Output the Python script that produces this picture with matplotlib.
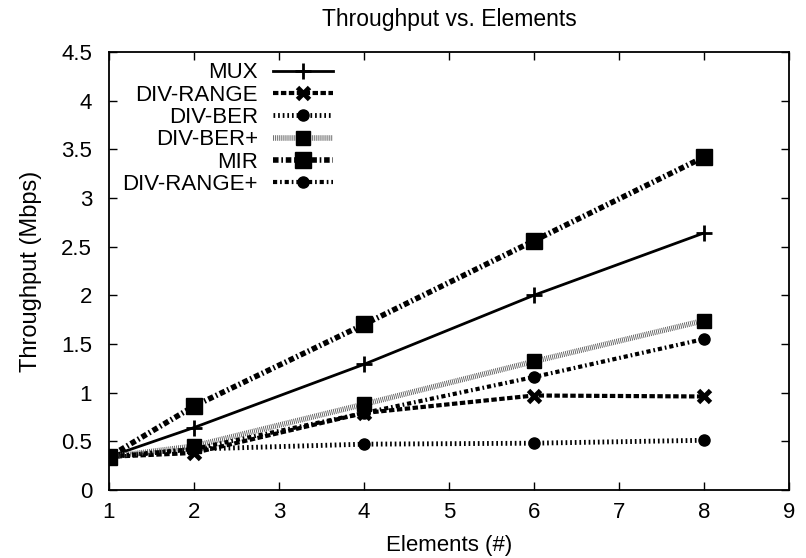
import matplotlib
matplotlib.use("Agg")
from matplotlib import pyplot as plt

plt.rcParams['font.family'] = ['Liberation Sans', 'DejaVu Sans']

elements = [1, 2, 4, 6, 8]
mux = [0.34, 0.64, 1.29, 2.00, 2.64]
div_range = [0.34, 0.38, 0.79, 0.97, 0.96]
div_ber = [0.34, 0.42, 0.47, 0.48, 0.51]
div_ber_plus = [0.34, 0.45, 0.88, 1.32, 1.74]
mir = [0.34, 0.86, 1.70, 2.56, 3.42]
div_range_plus = [0.34, 0.42, 0.79, 1.16, 1.55]

fig = plt.figure(figsize=(8.06, 5.58), dpi=100)
ax = fig.add_axes([0.135, 0.122, 0.844, 0.785])

ax.plot(elements, mux, color="black", lw=2, marker="+", ms=11, mew=2, label="MUX")
ax.plot(elements, div_range, color="black", lw=3, dashes=(1.3, 0.6), marker="x", ms=9, mew=3.5, label="DIV-RANGE")
ax.plot(elements, div_ber, color="black", lw=3.5, dashes=(0.35, 0.6), marker="o", ms=8, label="DIV-BER")
ax.plot(elements, div_ber_plus, color="#555555", lw=4, dashes=(0.15, 0.2), marker="s", ms=10, mfc="black", mec="black", label="DIV-BER+")
ax.plot(elements, mir, color="black", lw=4, dashes=(1.0, 0.5, 0.3, 0.5), marker="s", ms=11, label="MIR")
ax.plot(elements, div_range_plus, color="black", lw=3, dashes=(1.0, 0.7, 0.4, 0.7), marker="o", ms=8, label="DIV-RANGE+")

ax.set_xlim(1, 9)
ax.set_ylim(0, 4.5)
ax.set_xticks(range(1, 10))
ax.set_yticks([0, 0.5, 1, 1.5, 2, 2.5, 3, 3.5, 4, 4.5])
ax.set_yticklabels(["0", "0.5", "1", "1.5", "2", "2.5", "3", "3.5", "4", "4.5"])
ax.tick_params(direction="in", top=True, right=True, length=6, width=1, labelsize=16)
ax.tick_params(axis="x", pad=9)
ax.tick_params(axis="y", pad=12)
for s in ax.spines.values():
    s.set_linewidth(1.3)

ax.set_title("Throughput vs. Elements", fontsize=16.5, pad=19)
ax.set_xlabel("Elements (#)", fontsize=16, labelpad=8)
ax.set_ylabel("Throughput (Mbps)", fontsize=17, labelpad=14)

ax.legend(loc="upper left", bbox_to_anchor=(0.02, 0.976), markerfirst=False, frameon=False,
          fontsize=16, handlelength=2.7, handletextpad=0.7, labelspacing=0.06,
          borderaxespad=0, borderpad=0)

fig.savefig("out.png", dpi=100)
